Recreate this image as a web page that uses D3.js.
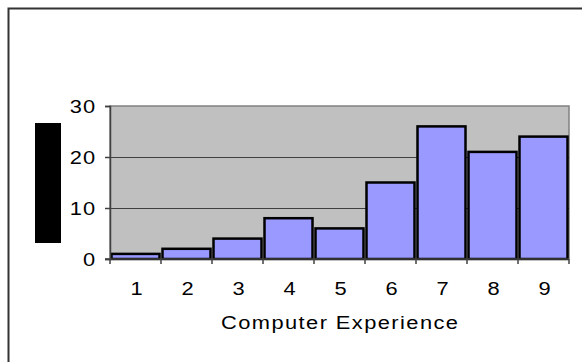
<!DOCTYPE html>
<html><head><meta charset="utf-8">
<script src="https://cdn.jsdelivr.net/npm/d3@7"></script>
<style>html,body{margin:0;padding:0;background:#fff;overflow:hidden}</style>
</head><body>
<svg id="c" width="582" height="362"></svg>
<script>
const categories = ["1","2","3","4","5","6","7","8","9"];
const values = [1, 2, 4, 8, 6, 15, 26, 21, 24];
const yTicks = [0, 10, 20, 30];
const xTitle = "Computer Experience";

(function () {
const svg = d3.select("#c");
const pLeft = 110, pRight = 569, pTop = 106, pBottom = 259;
const font = "'Liberation Sans', Arial, Helvetica, sans-serif";
const fs = 19, sx = 1.15;

// outer frame (cut off at right/bottom)
svg.append("rect").attr("x", 8.5).attr("y", 8.5).attr("width", 600).attr("height", 400)
  .attr("fill", "none").attr("stroke", "#333").attr("stroke-width", 2);

const x = d3.scaleBand().domain(categories).range([pLeft, pRight]).padding(0);
const y = d3.scaleLinear().domain([0, 30]).range([pBottom, pTop]);

// plot area
svg.append("rect").attr("x", pLeft).attr("y", pTop).attr("width", pRight - pLeft).attr("height", pBottom - pTop)
  .attr("fill", "#c0c0c0").attr("stroke", "#808080").attr("stroke-width", 1.5);

// gridlines
svg.append("g").selectAll("line").data(yTicks.filter(d => d > 0 && d < 30)).join("line")
  .attr("x1", pLeft).attr("x2", pRight).attr("y1", d => y(d) + 0.5).attr("y2", d => y(d) + 0.5)
  .attr("stroke", "#404040").attr("stroke-width", 1);

// bars
svg.append("g").selectAll("rect").data(values).join("rect")
  .attr("x", (d, i) => x(categories[i]) + 1.5)
  .attr("width", x.bandwidth() - 3)
  .attr("y", d => y(d))
  .attr("height", d => pBottom - y(d))
  .attr("fill", "#9999ff").attr("stroke", "#000").attr("stroke-width", 2.5);

// y axis
const yAxis = svg.append("g").attr("transform", `translate(${pLeft},0)`)
  .call(d3.axisLeft(y).tickValues(yTicks).tickSize(5).tickFormat(""));
yAxis.select(".domain").attr("stroke", "#404040").attr("stroke-width", 1.5);
yAxis.selectAll(".tick line").attr("stroke", "#404040").attr("stroke-width", 1.5);
svg.append("g").selectAll("text").data(yTicks).join("text")
  .attr("transform", d => `translate(96,${y(d)}) scale(${sx},1)`)
  .attr("text-anchor", "end").attr("dy", "0.35em")
  .attr("font-family", font).attr("font-size", fs).attr("letter-spacing", "0.8px")
  .attr("fill", "#000").text(d => d);

// x axis with ticks at category boundaries
const xg = svg.append("g").attr("transform", `translate(0,${pBottom})`);
xg.append("line").attr("x1", pLeft - 5).attr("x2", pRight).attr("y1", 0).attr("y2", 0)
  .attr("stroke", "#404040").attr("stroke-width", 1.5);
const bounds = categories.map(c => x(c)).concat([pRight]);
xg.selectAll("line.b").data(bounds).join("line").attr("class", "b")
  .attr("x1", d => d).attr("x2", d => d).attr("y1", 0).attr("y2", 5)
  .attr("stroke", "#404040").attr("stroke-width", 1.5);
xg.selectAll("text").data(categories).join("text")
  .attr("transform", d => `translate(${x(d) + x.bandwidth() / 2 + 1},36) scale(${sx},1)`)
  .attr("text-anchor", "middle").attr("font-family", font).attr("font-size", fs)
  .attr("fill", "#000").text(d => d);

// x title
svg.append("text")
  .attr("transform", `translate(${(pLeft + pRight) / 2},328.5) scale(${sx},1)`)
  .attr("text-anchor", "middle").attr("font-family", font).attr("font-size", fs)
  .attr("textLength", 237 / sx).attr("lengthAdjust", "spacing")
  .attr("fill", "#000").text(xTitle);

// redacted y-axis title block
svg.append("rect").attr("x", 35).attr("y", 123).attr("width", 26).attr("height", 120).attr("fill", "#000");
})();
</script>
</body></html>
